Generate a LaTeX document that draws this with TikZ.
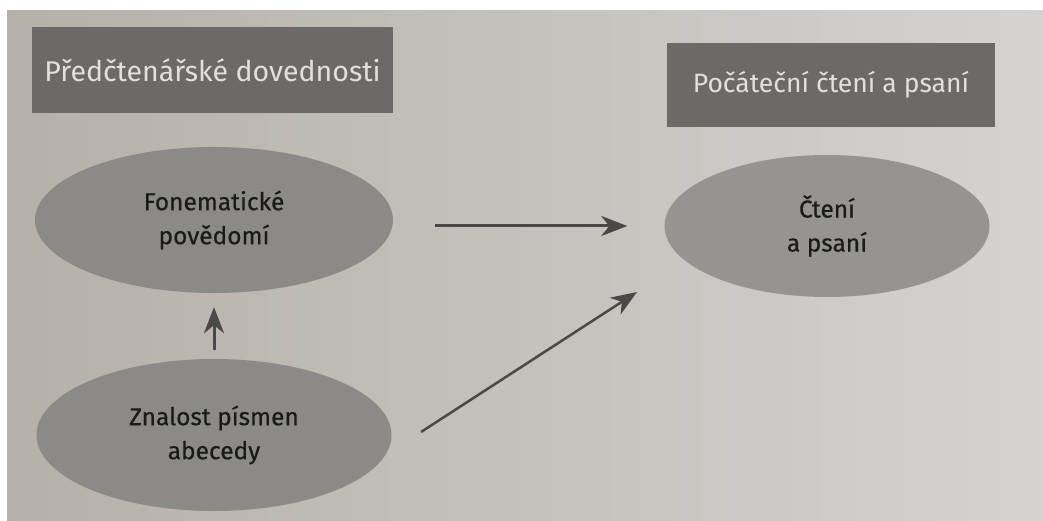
\documentclass[tikz,border=0pt]{standalone}
\usepackage{fontspec}
\setmainfont{Fira Sans}
\newfontfamily\ellfont{Fira Sans}[FakeBold=0.5]
\usetikzlibrary{shapes.geometric,arrows.meta}
\definecolor{bgdark}{HTML}{B5B0A8}
\definecolor{bglight}{HTML}{D4D3D1}
\definecolor{headfill}{HTML}{6B6A67}
\definecolor{headtext}{HTML}{E2E0DC}
\definecolor{ellfill}{HTML}{8C8A87}
\definecolor{ellfillb}{HTML}{969491}
\definecolor{elltext}{HTML}{1A1A1A}
\definecolor{arrowc}{HTML}{4A4948}
\begin{document}
\begin{tikzpicture}[x=1pt,y=-1pt,
  headbox/.style={rectangle, fill=headfill, text=headtext, inner sep=0pt},
  ellnode/.style={ellipse, fill=ellfill, text=elltext, inner sep=0pt, align=center,
    font=\ellfont\fontsize{24.5}{34}\selectfont},
  arr/.style={draw=arrowc, line width=3pt,
    -{Stealth[length=26pt,width=20pt,inset=8pt]}}
]
\useasboundingbox (0,0) rectangle (1043,521);
\shade[left color=bgdark, right color=bglight] (0,0) rectangle (1043,521);
\fill[white] (0,0) rectangle (1043,10);
\fill[white] (0,0) rectangle (7,521);

\node[headbox, minimum width=361pt, minimum height=86pt,
  font=\fontsize{28.5}{32}\selectfont] (h1) at (212.5,70) {Předčtenářské dovednosti};
\node[headbox, minimum width=328pt, minimum height=84pt,
  font=\fontsize{26.5}{30}\selectfont] (h2) at (831,85) {Počáteční čtení a psaní};

\node[ellnode, minimum width=358pt, minimum height=146pt] (fon) at (214,220) {Fonematické\\povědomí};
\node[ellnode, minimum width=355pt, minimum height=152pt] (zna) at (214,435) {Znalost písmen\\abecedy};
\node[ellnode, fill=ellfillb, minimum width=325pt, minimum height=142pt] (cte) at (827,226) {Čtení\\a psaní};

\coordinate (d1) at (421,432);
\coordinate (d2) at (637,292);

\draw[arr, shorten <=42pt, shorten >=37pt] (fon.east |- cte.west) -- (cte.west);
\draw[arr, shorten <=9pt, shorten >=14pt] (zna.north) -- (fon.south);
\draw[arr, line width=2.5pt] (d1) -- (d2);
\end{tikzpicture}
\end{document}
